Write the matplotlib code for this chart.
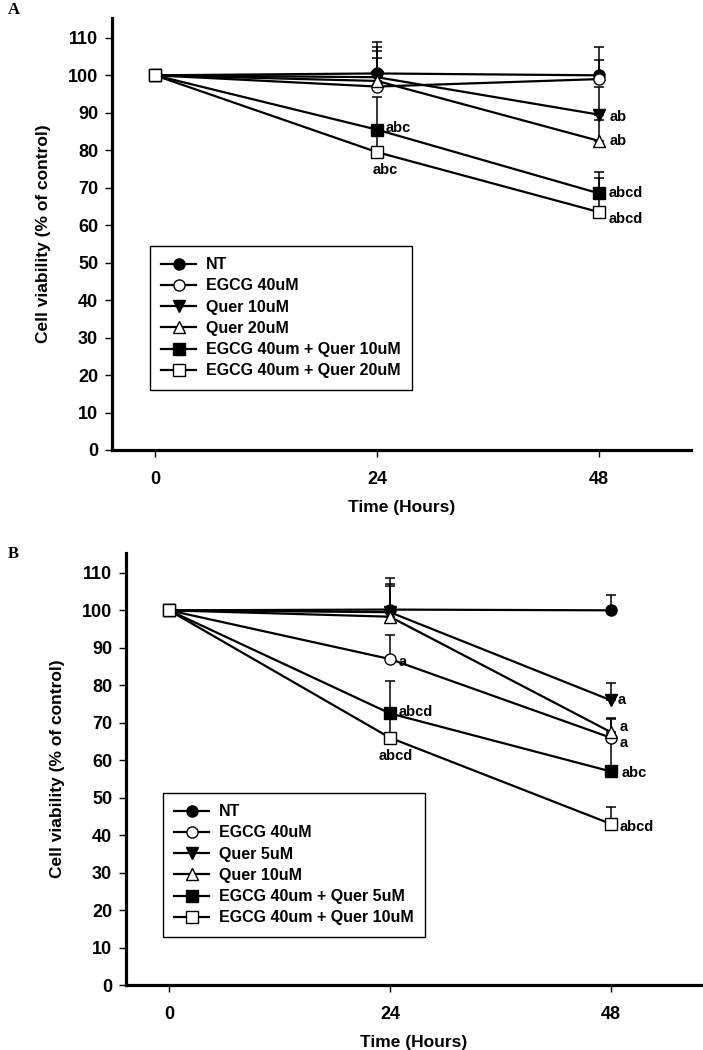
import matplotlib.pyplot as plt

plt.rcParams['font.family'] = ['Liberation Sans', 'DejaVu Sans']
plt.rcParams['font.weight'] = 'bold'
plt.rcParams['axes.labelweight'] = 'bold'

hours = [0, 24, 48]
x_ticks = [0, 24, 48]
y_ticks = list(range(0, 111, 10))

# panel A
labels_a = ['NT', 'EGCG 40uM', 'Quer 10uM', 'Quer 20uM',
            'EGCG 40um + Quer 10uM', 'EGCG 40um + Quer 20uM']
means_a = [
    [100, 100.5, 100],   # NT
    [100, 97, 99],       # EGCG 40uM
    [100, 99.5, 89.5],   # Quer 10uM
    [100, 98.5, 82.5],   # Quer 20uM
    [100, 85.5, 68.5],   # EGCG + Quer 10
    [100, 79.5, 63.5],   # EGCG + Quer 20
]
errs_a = [
    [0, 8.4, 7.6],
    [0, 10.5, 5.0],
    [0, 7.0, 7.5],
    [0, 6.0, 5.5],
    [0, 8.6, 5.6],
    [0, 5.5, 9.0],
]
# (series index, time index, letters)
sig_a = [(4, 1, 'abc'), (5, 1, 'abc'), (2, 2, 'ab'), (3, 2, 'ab'),
         (4, 2, 'abcd'), (5, 2, 'abcd')]

# panel B
labels_b = ['NT', 'EGCG 40uM', 'Quer 5uM', 'Quer 10uM',
            'EGCG 40um + Quer 5uM', 'EGCG 40um + Quer 10uM']
means_b = [
    [100, 100.2, 100],   # NT
    [100, 87, 66],       # EGCG 40uM
    [100, 99.5, 76],     # Quer 5uM
    [100, 98.3, 67.5],   # Quer 10uM
    [100, 72.5, 57],     # EGCG + Quer 5
    [100, 66, 43],       # EGCG + Quer 10
]
errs_b = [
    [0, 8.4, 4.2],
    [0, 6.3, 5.0],
    [0, 7.0, 4.7],
    [0, 8.8, 3.8],
    [0, 8.6, 10.0],
    [0, 6.0, 4.6],
]
sig_b = [(1, 1, 'a'), (4, 1, 'abcd'), (5, 1, 'abcd'), (2, 2, 'a'),
         (3, 2, 'a'), (1, 2, 'a'), (4, 2, 'abc'), (5, 2, 'abcd')]

styles = [('o', 'black'), ('o', 'white'), ('v', 'black'),
          ('^', 'white'), ('s', 'black'), ('s', 'white')]

# offsets (points) for the letter labels
sig_offsets_a = {(4, 1): (6, 1), (5, 1): (-3, -13), (2, 2): (8, -2),
                 (3, 2): (8, 0), (4, 2): (7, 0), (5, 2): (7, -5)}
sig_offsets_b = {(1, 1): (6, -2), (4, 1): (6, 1), (5, 1): (-8, -13),
                 (2, 2): (5, 0), (3, 2): (6, 4), (1, 2): (6, -4),
                 (4, 2): (8, -1), (5, 2): (6, -2)}

fig = plt.figure(figsize=(7.03, 10.5), dpi=100)


def draw_panel(rect, xlim, means, errs, labels, sig, sig_offsets, leg_anchor,
               letter, letter_y, ylabelpad):
    ax = fig.add_axes(rect)
    for i, (m, e) in enumerate(zip(means, errs)):
        marker, face = styles[i]
        ax.errorbar(hours, m, yerr=[[0, 0, 0], e], fmt='none', ecolor='black',
                    elinewidth=1.1, capsize=3.8, capthick=1.1, zorder=2)
        ax.plot(hours, m, color='black', lw=1.6, marker=marker, markersize=8,
                markerfacecolor=face, markeredgecolor='black', markeredgewidth=1,
                label=labels[i], zorder=3 + i * 0.1)
    for s, t, txt in sig:
        dx, dy = sig_offsets[(s, t)]
        ax.annotate(txt, (hours[t], means[s][t]), xytext=(dx, dy),
                    textcoords='offset points', fontsize=10.5, fontweight='bold',
                    ha='left', va='center')
    ax.set_xlim(xlim)
    ax.set_ylim(0, 115.3)
    ax.set_xticks(x_ticks)
    ax.set_yticks(y_ticks)
    ax.spines['top'].set_visible(False)
    ax.spines['right'].set_visible(False)
    ax.spines['left'].set_linewidth(2.3)
    ax.spines['bottom'].set_linewidth(2.3)
    ax.tick_params(direction='out', length=5, width=1, labelsize=13)
    ax.tick_params(axis='x', pad=10)
    ax.tick_params(axis='y', pad=5)
    ax.set_xlabel('Time (Hours)', fontsize=12.5, labelpad=9)
    ax.set_ylabel('Cell viability (% of control)', fontsize=12.5, labelpad=ylabelpad)
    leg = ax.legend(loc='upper left', bbox_to_anchor=leg_anchor,
                    bbox_transform=fig.transFigure, borderaxespad=0,
                    fontsize=11.5, handlelength=2.2, labelspacing=0.39,
                    borderpad=0.7, handletextpad=0.6, fancybox=False,
                    edgecolor='black', framealpha=1)
    leg.get_frame().set_linewidth(1)
    fig.text(8 / 703, letter_y, letter, fontsize=12, fontweight='bold',
             family='Liberation Serif', va='top')
    return ax


draw_panel([112 / 703, 1 - 450 / 1050, 579 / 703, 432 / 1050], (-4.65, 57.95),
           means_a, errs_a, labels_a, sig_a, sig_offsets_a,
           (150 / 703, 1 - 246 / 1050), 'A', 1 - 2 / 1050, 12)
draw_panel([126 / 703, 1 - 985 / 1050, 575 / 703, 432 / 1050], (-4.67, 57.8),
           means_b, errs_b, labels_b, sig_b, sig_offsets_b,
           (163 / 703, 1 - 793 / 1050), 'B', 1 - 546 / 1050, 12)

fig.savefig('out.png', dpi=100)
